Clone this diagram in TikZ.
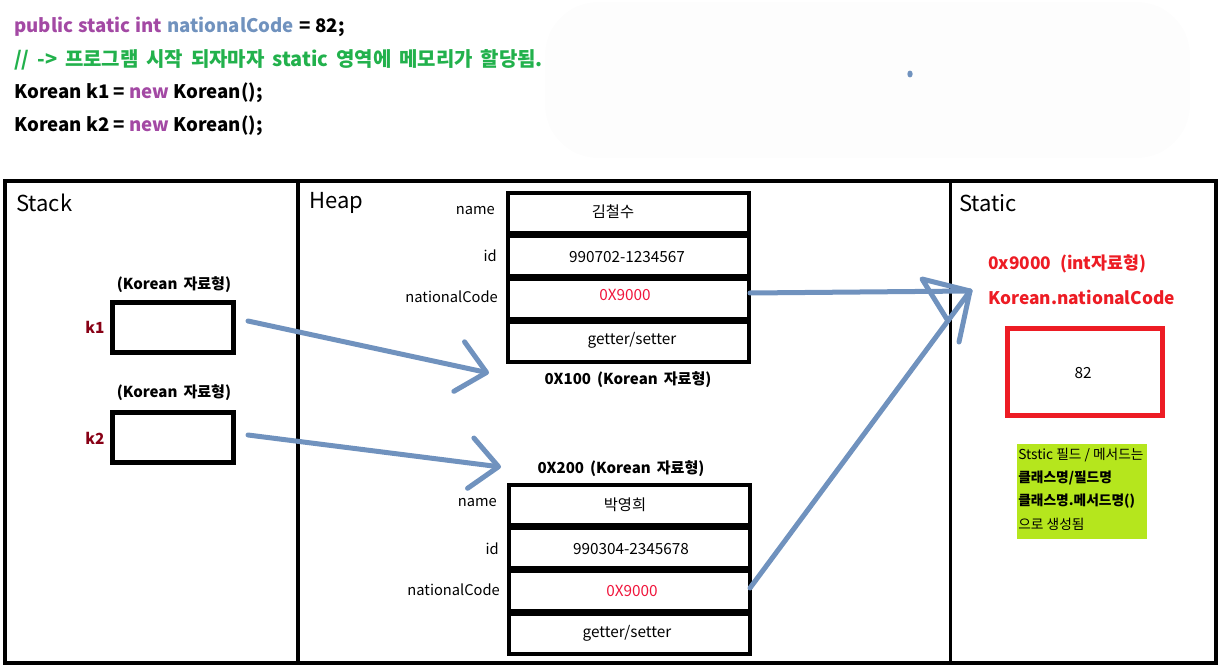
\documentclass[tikz,border=0pt]{standalone}
\usepackage{fontspec}
\setmainfont{Noto Sans CJK KR}
\usetikzlibrary{arrows.meta}
\definecolor{purp}{HTML}{A349A4}
\definecolor{bluegray}{HTML}{7092BE}
\definecolor{codegreen}{HTML}{22B14C}
\definecolor{darkred}{HTML}{880015}
\definecolor{redtxt}{HTML}{ED1C24}
\definecolor{pinkred}{HTML}{F0163C}
\definecolor{lime}{HTML}{B5E61D}
\definecolor{blob}{RGB}{253,253,253}
\tikzset{
  code/.style={anchor=west, inner sep=0pt, font=\bfseries\fontsize{14pt}{16pt}\selectfont},
  title/.style={anchor=west, inner sep=0pt, font=\fontsize{16.5pt}{18pt}\selectfont},
  stackbox/.style={draw, line width=3.75pt, minimum width=90.75pt, minimum height=37.5pt, inner sep=0pt},
  cell/.style={draw, line width=3pt, minimum width=180.75pt, minimum height=30pt, inner sep=0pt},
  fieldlbl/.style={anchor=east, inner sep=0pt, font=\fontsize{11pt}{13pt}\selectfont},
  val/.style={inner sep=0pt, font=\fontsize{11.5pt}{13pt}\selectfont},
  typelbl/.style={inner sep=0pt, font={\bfseries\fontsize{11.3pt}{13pt}\selectfont\spaceskip=0.4em\relax}},
  reflbl/.style={inner sep=0pt, text=darkred, font=\bfseries\fontsize{11.5pt}{13pt}\selectfont},
  redlbl/.style={anchor=west, inner sep=0pt, text=redtxt, font=\bfseries\fontsize{13pt}{15pt}\selectfont},
  note/.style={anchor=west, inner sep=0pt, font=\fontsize{10.3pt}{12pt}\selectfont},
  notebold/.style={note, font=\bfseries\fontsize{10.3pt}{12pt}\selectfont},
  pointer/.style={draw=bluegray, line width=3.75pt, line cap=round, line join=round},
  barb/.style={-{Straight Barb[length=21pt,width=38pt,line cap=round,line join=round]}},
}
\begin{document}
\begin{tikzpicture}[x=0.75pt,y=-0.75pt]
\useasboundingbox (0,0) rectangle (1219,666);
% faint background blob
\fill[blob, rounded corners=40pt] (545,2) rectangle (1190,158);
\fill[bluegray] (910,74) ellipse (2pt and 2.6pt);

% code lines
\node[code, font={\bfseries\fontsize{14pt}{16pt}\selectfont\spaceskip=0.27em\relax}] (c1) at (14,27) {\textcolor{purp}{public static int} \textcolor{bluegray}{nationalCode} = 82;};
\node[code, text=codegreen, font={\bfseries\fontsize{15pt}{17pt}\selectfont\spaceskip=0.39em\relax}] (c2) at (14,60) {// -> 프로그램 시작 되자마자 static 영역에 메모리가 할당됨.};
\node[code] (c3) at (14,93) {Korean k1 = \textcolor{purp}{new} Korean();};
\node[code] (c4) at (14,126) {Korean k2 = \textcolor{purp}{new} Korean();};

% frame
\draw[line width=3pt] (5,181) rectangle (1216,663);
\draw[line width=3pt] (298,181) -- (298,663);
\draw[line width=2.25pt] (950,181) -- (950,663);

\node[title] (tstack) at (16,203) {Stack};
\node[title] (theap) at (309,203) {Heap};
\node[title] (tstatic) at (959,203) {Static};

% stack
\node[typelbl] (t1) at (174,285) {(Korean 자료형)};
\node[stackbox] (k1box) at (173,327.5) {};
\node[reflbl] (k1) at (95,327) {k1};
\node[typelbl] (t2) at (174,393) {(Korean 자료형)};
\node[stackbox] (k2box) at (172.5,437) {};
\node[reflbl] (k2) at (95,438) {k2};

% heap object 1
\node[cell] (a1) at (628.5,213) {};
\node[cell] (a2) at (628.5,256) {};
\node[cell] (a3) at (628.5,299) {};
\node[cell] (a4) at (628.5,342) {};
\node[val] (av1) at (613,212) {김철수};
\node[val] (av2) at (627,257) {990702-1234567};
\node[val, text=pinkred] (av3) at (625,295) {0X9000};
\node[val] (av4) at (632,340) {getter/setter};
\node[fieldlbl] (al1) at (495,211) {name};
\node[fieldlbl] (al2) at (497,256) {id};
\node[fieldlbl] (al3) at (498,297) {nationalCode};
\node[typelbl] (aaddr) at (628,380) {0X100 (Korean 자료형)};

% heap object 2
\node[typelbl] (baddr) at (621,469) {0X200 (Korean 자료형)};
\node[cell] (b1) at (629,505) {};
\node[cell] (b2) at (629,548) {};
\node[cell] (b3) at (629,591) {};
\node[cell] (b4) at (629,634) {};
\node[val] (bv1) at (625,505) {박영희};
\node[val] (bv2) at (631,549) {990304-2345678};
\node[val, text=pinkred] (bv3) at (632,591) {0X9000};
\node[val] (bv4) at (627,633) {getter/setter};
\node[fieldlbl] (bl1) at (497,503) {name};
\node[fieldlbl] (bl2) at (499,549) {id};
\node[fieldlbl] (bl3) at (500,590) {nationalCode};

% static area
\node[redlbl, font={\bfseries\fontsize{13pt}{15pt}\selectfont\spaceskip=0.5em\relax}] (s1) at (988,264) {0x9000 (int자료형)};
\node[redlbl] (s2) at (988,297) {Korean.nationalCode};
\node[draw=redtxt, line width=3.75pt, minimum width=116.25pt, minimum height=65.25pt, inner sep=0pt] (sbox) at (1085,372) {};
\node[val] (sval) at (1083,373) {82};
\node[fill=lime, minimum width=97.5pt, minimum height=71.25pt, inner sep=0pt] (gbox) at (1082,491.5) {};
\node[note] (n1) at (1018,455) {Ststic 필드 / 메서드는};
\node[notebold] (n2) at (1018,478) {클래스명/필드명};
\node[notebold] (n3) at (1018,501) {클래스명.메서드명()};
\node[note] (n4) at (1018,524) {으로 생성됨};

% pointers
\coordinate (p1s) at (248,321);
\coordinate (p1e) at (489,373);
\coordinate (p2s) at (248,435);
\coordinate (p2e) at (501,467);
\coordinate (p3s) at (750,293);
\coordinate (p4s) at (750,588);
\coordinate (tip) at (970,291);
\draw[pointer, barb] (p1s) -- (p1e);
\draw[pointer, barb] (p2s) -- (p2e);
\draw[pointer] (p3s) -- (tip);
\draw[pointer] (p4s) -- (tip);
\draw[pointer] (948,321) -- (922,279) -- (tip) -- (959,342);
\end{tikzpicture}
\end{document}
